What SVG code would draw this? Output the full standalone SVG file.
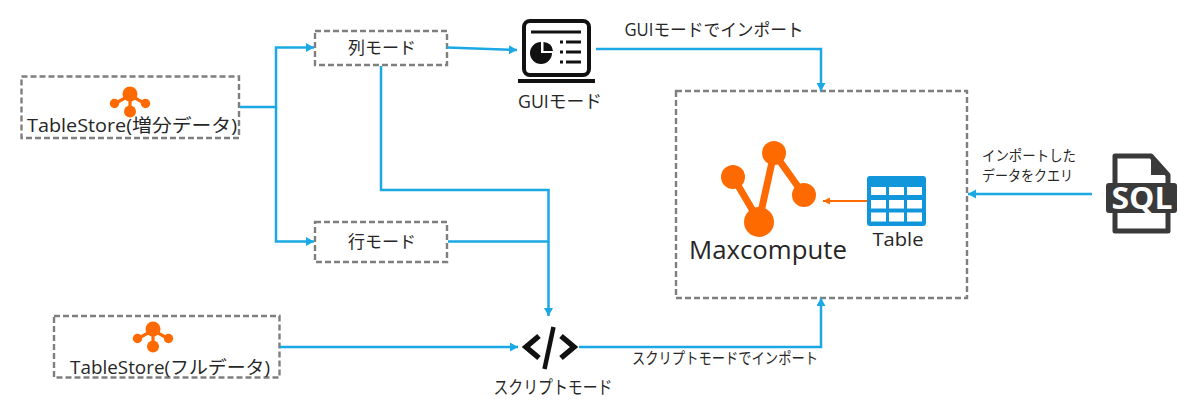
<svg xmlns="http://www.w3.org/2000/svg" width="1200" height="419" viewBox="0 0 1200 419">
<defs>
<marker id="a" markerUnits="userSpaceOnUse" markerWidth="10" markerHeight="10" refX="8" refY="4.5" orient="auto"><path d="M0 0L8 4.500L0 9z" fill="#1aa9e4"/></marker>
<marker id="o" markerUnits="userSpaceOnUse" markerWidth="10" markerHeight="10" refX="7" refY="3.500" orient="auto"><path d="M0 0L7 3.500L0 7z" fill="#ff6a00"/></marker>
<g id="ts"><circle cx="0" cy="-6" r="7.500" fill="#ff6a00"/><circle cx="0" cy="11.500" r="6" fill="#ff6a00"/><circle cx="-15.500" cy="3.500" r="4.700" fill="#ff6a00"/><circle cx="15.500" cy="3.500" r="4.700" fill="#ff6a00"/><path d="M-15 3.500L-6 -1.500H6L15 3.500M0 -6V11" fill="none" stroke="#ff6a00" stroke-width="3.200"/></g>
</defs>
<style>
.box{fill:#fff;stroke:#7f7f7f;stroke-width:2.400;stroke-dasharray:6 3}
.c{fill:none;stroke:#1aa9e4;stroke-width:2.500}
text{font-family:"Open Sans","Noto Sans CJK JP",sans-serif;fill:#262626}
.m{text-anchor:middle}
</style>
<g id="n-inc"><rect class="box" x="21.500" y="76.500" width="217.500" height="61.500"/><use href="#ts" x="130" y="100"/><text x="132" y="132" font-size="18.500" class="m" textLength="210" lengthAdjust="spacingAndGlyphs">TableStore(増分データ)</text></g>
<g id="n-col"><rect class="box" x="315" y="31" width="132" height="34"/><text x="382" y="54" font-size="17" class="m">列モード</text></g>
<g id="n-row"><rect class="box" x="315" y="222" width="132" height="40"/><text x="382" y="248" font-size="17" class="m">行モード</text></g>
<g id="n-full"><rect class="box" x="54" y="316" width="225.500" height="61.500"/><use href="#ts" x="153" y="335"/><text x="170" y="374" font-size="18.500" class="m" textLength="200" lengthAdjust="spacingAndGlyphs">TableStore(フルデータ)</text></g>
<g id="n-gui">
<rect x="524" y="21" width="65" height="54" rx="6" fill="#fff" stroke="#111" stroke-width="4"/>
<path d="M518 81H595" stroke="#111" stroke-width="4"/>
<path d="M531 32H581M566 42H581M566 52H581M566 62H581" stroke="#111" stroke-width="3"/>
<path d="M560 42h3M560 52h3M560 62h3" stroke="#111" stroke-width="3"/>
<path d="M541 42A11 11 0 1 0 552 53H541Z" fill="#111"/>
<path d="M543.500 42A9.500 9.500 0 0 1 553 51H543.500Z" fill="#111"/>
<text x="560" y="108" font-size="18" class="m" textLength="84" lengthAdjust="spacingAndGlyphs">GUIモード</text>
</g>
<g id="n-script">
<path d="M539 336L526 347L539 358M561 336L574 347L561 358" fill="none" stroke="#111" stroke-width="5.500"/>
<path d="M553.500 327L544.500 369" fill="none" stroke="#111" stroke-width="4.500"/>
<text x="553" y="394" font-size="18" class="m" textLength="119" lengthAdjust="spacingAndGlyphs">スクリプトモード</text>
</g>
<g id="n-max"><rect class="box" x="676" y="91" width="291" height="207"/>
<g stroke="#ff6a00" fill="none" stroke-width="7"><path d="M733 177L759 221L774 153L804 195"/></g>
<g fill="#ff6a00"><circle cx="733" cy="177" r="12"/><circle cx="759" cy="222" r="15"/><circle cx="774" cy="153" r="12"/><circle cx="804" cy="195" r="12"/></g>
<text x="768" y="259" font-size="25.500" class="m" textLength="158" lengthAdjust="spacingAndGlyphs">Maxcompute</text>
</g>
<g id="n-table">
<rect x="867" y="176" width="59" height="50" rx="3" fill="#1296db"/>
<g fill="#fff"><rect x="871" y="187" width="15" height="8"/><rect x="889" y="187" width="15" height="8"/><rect x="907" y="187" width="15" height="8"/><rect x="871" y="200" width="15" height="8.500"/><rect x="889" y="200" width="15" height="8.500"/><rect x="907" y="200" width="15" height="8.500"/><rect x="871" y="212.500" width="15" height="9"/><rect x="889" y="212.500" width="15" height="9"/><rect x="907" y="212.500" width="15" height="9"/></g>
<text x="898" y="246" font-size="18" class="m" textLength="51" lengthAdjust="spacingAndGlyphs">Table</text>
</g>
<g id="n-sql">
<path d="M1115 156H1151L1168 175V231H1115Z" fill="#fff" stroke="#3a3a3a" stroke-width="5" stroke-linejoin="round"/>
<path d="M1151 155L1170 175H1151Z" fill="#3a3a3a"/>
<rect x="1106" y="183" width="71" height="30" rx="3" fill="#3a3a3a"/>
<text x="1142" y="209" font-size="30" font-weight="700" class="m" style="fill:#fff" textLength="61" lengthAdjust="spacingAndGlyphs">SQL</text>
</g>
<g id="connectors">
<path class="c" d="M240 107H276V47.500H314" marker-end="url(#a)"/>
<path class="c" d="M276 107V241.500H314" marker-end="url(#a)"/>
<path class="c" d="M447 47.500L517 50" marker-end="url(#a)"/>
<path class="c" d="M381 66V190H548.500V316" marker-end="url(#a)"/>
<path class="c" d="M448 241.500H548.500"/>
<path class="c" d="M280 347H518" marker-end="url(#a)"/>
<path class="c" d="M579 347H821V298" marker-end="url(#a)"/>
<path class="c" d="M596 49H821V91" marker-end="url(#a)"/>
<path class="c" d="M1092 194H968" marker-end="url(#a)"/>
<path d="M867 201H823" fill="none" stroke="#ff6a00" stroke-width="2" marker-end="url(#o)"/>
</g>
<g id="labels">
<text x="714" y="36" font-size="17.500" class="m" textLength="179" lengthAdjust="spacingAndGlyphs">GUIモードでインポート</text>
<text x="725" y="364" font-size="15.500" class="m" textLength="186" lengthAdjust="spacingAndGlyphs">スクリプトモードでインポート</text>
<text x="982" y="161" font-size="14.500" textLength="94" lengthAdjust="spacingAndGlyphs">インポートした</text>
<text x="982" y="181" font-size="14.500" textLength="91" lengthAdjust="spacingAndGlyphs">データをクエリ</text>
</g>
</svg>
